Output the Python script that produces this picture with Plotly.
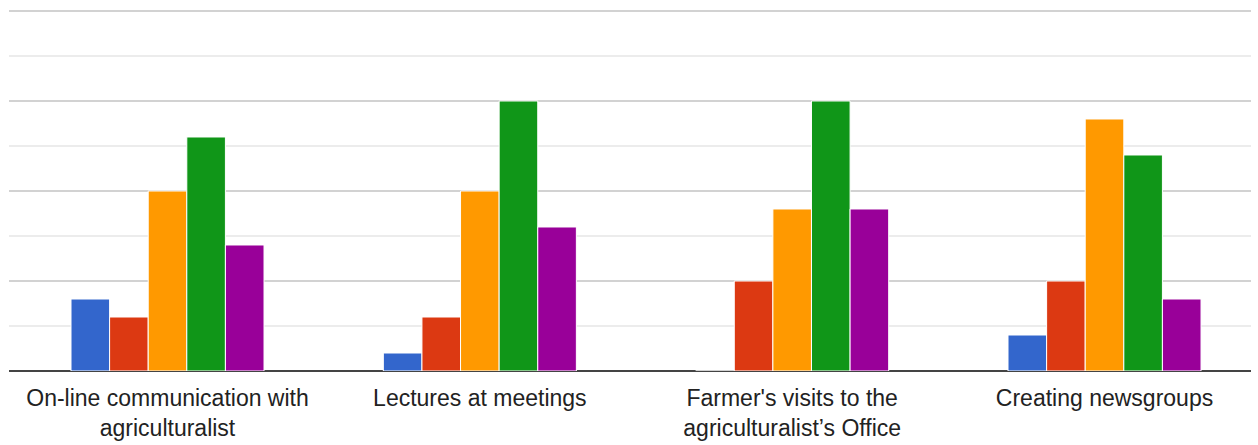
import plotly.graph_objects as go

# Survey categories (x axis) and response counts per series
categories = [
    "On-line communication with<br>agriculturalist",
    "Lectures at meetings",
    "Farmer's visits to the<br>agriculturalist\u2019s Office",
    "Creating newsgroups",
]
series_names = ["1", "2", "3", "4", "5"]
series_colors = ["#3366cc", "#dc3912", "#ff9900", "#109618", "#990099"]

values_1 = [4, 1, 0, 2]
values_2 = [3, 3, 5, 5]
values_3 = [10, 10, 9, 14]
values_4 = [13, 15, 15, 12]
values_5 = [7, 8, 9, 4]

all_values = [values_1, values_2, values_3, values_4, values_5]

fig = go.Figure()
for name, color, vals in zip(series_names, series_colors, all_values):
    fig.add_trace(go.Bar(
        x=categories,
        y=vals,
        name=name,
        marker=dict(color=color, line=dict(color="white", width=1)),
    ))

fig.update_layout(
    width=1258,
    height=445,
    margin=dict(l=9, r=7, t=9, b=74),
    paper_bgcolor="white",
    plot_bgcolor="white",
    barmode="group",
    bargap=0.382,
    bargroupgap=0,
    showlegend=False,
    font=dict(family="Arial, Liberation Sans, sans-serif", size=23, color="#222222"),
    xaxis=dict(
        type="category",
        range=[-0.5075, 3.469],
        automargin=False,
        showgrid=False,
        showline=False,
        ticks="",
        ticklabelstandoff=11,
        tickfont=dict(size=23, color="#222222"),
    ),
    yaxis=dict(
        range=[0, 20.11],
        automargin=False,
        tick0=0,
        dtick=5,
        showticklabels=False,
        showgrid=True,
        gridcolor="#d2d2d2",
        gridwidth=2,
        zeroline=True,
        zerolinecolor="#444444",
        zerolinewidth=2,
        minor=dict(dtick=2.5, showgrid=True, gridcolor="#ececec", gridwidth=2),
    ),
)

fig.write_html("out.html")
